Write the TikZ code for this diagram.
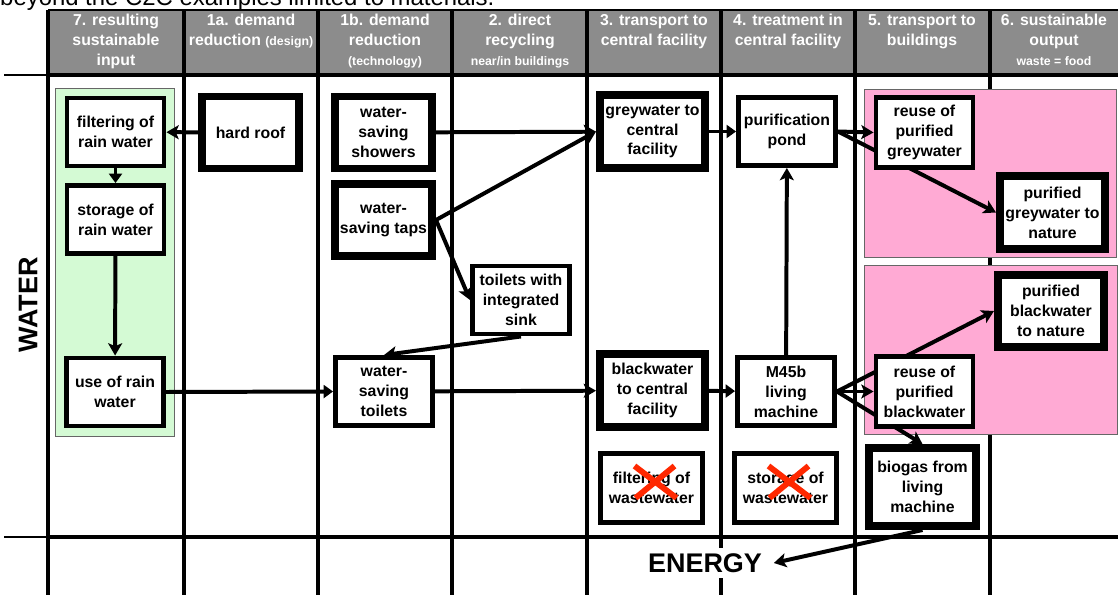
\documentclass[tikz,border=0pt]{standalone}
\usepackage{fontspec}
\setmainfont{Liberation Sans}
\usetikzlibrary{positioning,arrows.meta}
\usepackage{xcolor}

\definecolor{hdrgrey}{RGB}{140,140,140}
\definecolor{rainbg}{RGB}{212,250,212}
\definecolor{reusebg}{RGB}{255,170,212}
\definecolor{xred}{RGB}{255,40,0}

\newcommand{\boxfont}{\fontsize{13.5}{17}\selectfont\bfseries}
\newcommand{\hdrfont}{\fontsize{13.5}{17}\selectfont\bfseries}
\newcommand{\hdrsmall}{\fontsize{10.5}{14}\selectfont}
\newcommand{\bigfont}{\fontsize{23}{27}\selectfont\bfseries}

\pgfdeclarelayer{bg}
\pgfdeclarelayer{links}
\pgfsetlayers{bg,links,main}

\begin{document}
\begin{tikzpicture}[
  x=0.03cm, y=-0.03cm,
  grid/.style={line width=3.4pt},
  box/.style={rectangle, draw, fill=white, line width=4.2pt, minimum width=2.91cm,
    minimum height=2.04cm, align=center, inner sep=1pt, font=\boxfont},
  boldbox/.style={box, line width=6.8pt, minimum height=2.16cm},
  hdr/.style={anchor=north, inner sep=0pt, align=center, text=white, font=\hdrfont},
  panel/.style={draw=black!60, line width=0.8pt},
  flow/.style={line width=3.4pt, -{Stealth[length=10.5pt,width=12pt,inset=2.5pt]}},
  jump/.style={line width=3.4pt, -{Triangle[length=8pt,width=11pt]}},
  cross/.style={draw=xred, line width=5pt},
]
  \useasboundingbox (0,0) rectangle (1118,595);

  \node[anchor=base west, inner sep=0pt, font=\fontsize{20.4}{24}\selectfont] (note) at (0,5.5)
    {beyond the C2C examples limited to materials.};

  % table grid and header
  \begin{pgfonlayer}{bg}
    \fill[hdrgrey] (48,10) rectangle (1118,73);
    \draw[line width=2.5pt] (48,10) -- (1118,10);
    \foreach \cx in {48,184,318,452,587,721,855,990}
      \draw[grid] (\cx,10) -- (\cx,595);
    \foreach \cy in {75,537} {
      \draw[line width=2pt] (4,\cy) -- (48,\cy);
      \draw[grid] (48,\cy) -- (1118,\cy);
    }
    \draw[panel, fill=rainbg] (55,88) rectangle (174,436);
    \draw[panel, fill=reusebg] (864,89) rectangle (1116,257);
    \draw[panel, fill=reusebg] (864,265) rectangle (1117,434);
  \end{pgfonlayer}

  \node[hdr] (h7)  at (116,14)  {7. resulting\\sustainable\\input};
  \node[hdr] (h1a) at (251,14)  {1a. demand\\reduction {\hdrsmall(design)}};
  \node[hdr] (h1b) at (385,14)  {1b. demand\\reduction\\{\hdrsmall(technology)}};
  \node[hdr] (h2)  at (520,14)  {2. direct\\recycling\\{\hdrsmall near/in buildings}};
  \node[hdr] (h3)  at (654,14)  {3. transport to\\central facility};
  \node[hdr] (h4)  at (788,14)  {4. treatment in\\central facility};
  \node[hdr] (h5)  at (922,14)  {5. transport to\\buildings};
  \node[hdr] (h6)  at (1054,14) {6. sustainable\\output\\{\hdrsmall waste = food}};

  \node[rotate=90, font=\bigfont] (water) at (28,305) {WATER};
  \node[fill=white, inner xsep=10pt, inner ysep=5pt, font=\bigfont] (energy) at (705,563) {ENERGY};

  % rain water
  \node[box] (filt)    at (115.5,132)   {filtering of\\rain water};
  \node[box] (store)   at (115.5,219.5) {storage of\\rain water};
  \node[box] (userain) at (115,392)     {use of rain\\water};

  % demand reduction and recycling
  \node[boldbox] (roof)    at (250.5,132.5) {hard roof};
  \node[boldbox] (showers) at (383.5,132.5) {water-\\saving\\showers};
  \node[boldbox] (taps)    at (383.5,220)   {water-\\saving taps};
  \node[box]     (sink)    at (521,300)     {toilets with\\integrated\\sink};
  \node[box]     (toilets) at (384,391.5)   {water-\\saving\\toilets};

  % central facility
  \node[boldbox, minimum width=3.15cm, minimum height=2.19cm] (greyc)  at (652.5,131.5) {greywater to\\central\\facility};
  \node[boldbox, minimum width=3.15cm, minimum height=2.19cm] (blackc) at (652.5,390.5) {blackwater\\to central\\facility};
  \node[box, minimum width=3.06cm, minimum height=2.07cm] (fww) at (651.5,488) {filtering of\\wastewater};
  \node[box] (pond) at (787,131.5) {purification\\pond};
  \node[box] (m45)  at (786,391.5) {M45b\\living\\machine};
  \node[box, minimum width=3.06cm, minimum height=2.07cm] (sww) at (785.5,488) {storage of\\wastewater};

  % back to buildings and output
  \node[box, minimum height=2.1cm] (reusegw) at (924.5,132.5) {reuse of\\purified\\greywater};
  \node[boldbox, minimum width=3.15cm, minimum height=2.19cm] (gnature) at (1052.5,212.5) {purified\\greywater to\\nature};
  \node[boldbox, minimum width=3.18cm] (bnature) at (1051,311) {purified\\blackwater\\to nature};
  \node[box, minimum height=2.1cm] (reusebw) at (924.5,391.5) {reuse of\\purified\\blackwater};
  \node[boldbox, minimum width=3.21cm, minimum height=2.34cm] (biogas) at (922.5,487) {biogas from\\living\\machine};

  \begin{pgfonlayer}{links}
    \draw[flow] (roof) -- (filt);
    \draw[jump] (filt) -- (store);
    \draw[flow] (store) -- (userain);
    \draw[jump] (userain.east) -- (toilets.west);
    \draw[flow] (showers) -- (greyc);
    \draw[flow] (taps.east) -- (greyc.west);
    \draw[flow] (taps.east) -- (sink.west);
    \draw[flow] (sink.south) -- (toilets.north);
    \draw[flow] (toilets) -- (blackc);
    \draw[jump] (greyc) -- (pond);
    \draw[jump] (blackc) -- (m45);
    \draw[flow] (m45) -- (pond);
    \draw[flow] (pond.east) -- (reusegw.west);
    \draw[flow] (pond.east) -- (gnature.west);
    \draw[flow] (m45.east) -- (reusebw.west);
    \draw[flow] (m45.east) -- (bnature.west);
    \draw[flow] (m45.east) -- (biogas.north);
    \draw[flow] (biogas.south) -- (energy.east);
  \end{pgfonlayer}

  % crossed out
  \draw[cross] ([shift={(-17,-22)}]fww.center) -- ([shift={(25,10)}]fww.center)
               ([shift={(23,-22)}]fww.center) -- ([shift={(-16,10)}]fww.center);
  \draw[cross] ([shift={(-17,-22)}]sww.center) -- ([shift={(25,10)}]sww.center)
               ([shift={(23,-22)}]sww.center) -- ([shift={(-16,10)}]sww.center);
\end{tikzpicture}
\end{document}
